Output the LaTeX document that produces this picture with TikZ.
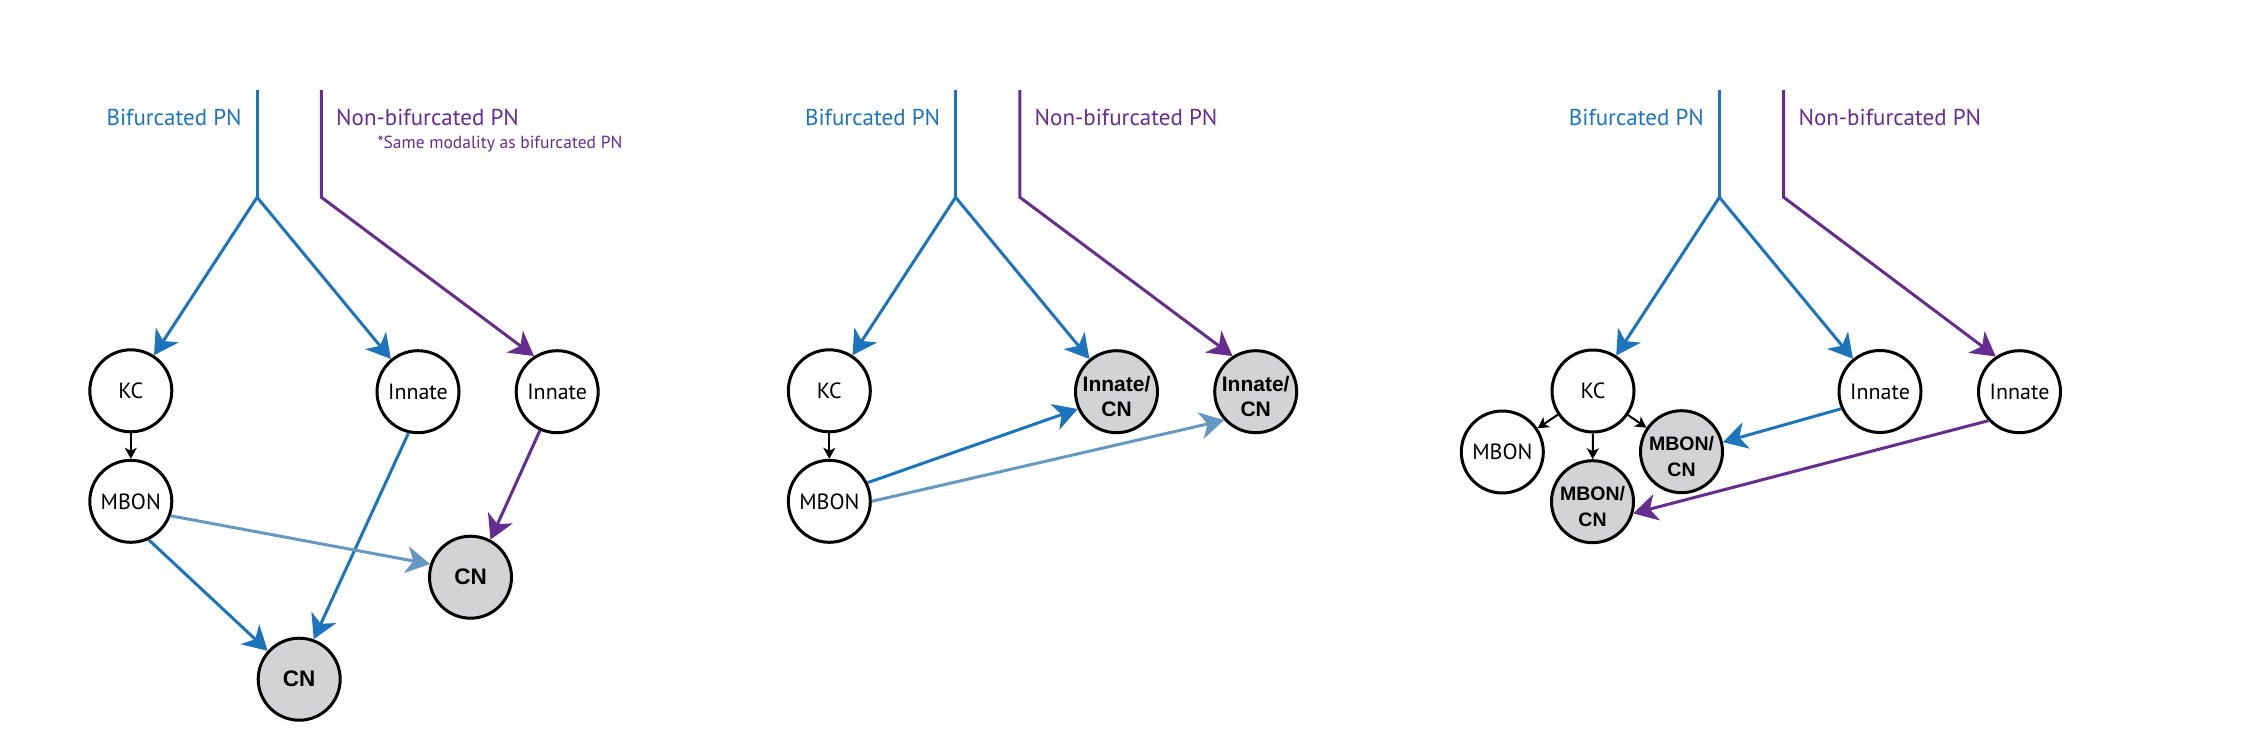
\documentclass[tikz,border=0pt]{standalone}
\usepackage{fontspec}
\setmainfont{PT Sans}
\newfontfamily\arialfont{Liberation Sans}
\usetikzlibrary{arrows.meta}
\definecolor{pnblue}{HTML}{1C75BC}
\definecolor{pnpurple}{HTML}{662D91}
\definecolor{pnlight}{HTML}{6699C2}
\definecolor{cngray}{HTML}{D1D3D4}
\tikzset{
  cell/.style={circle, draw=black, line width=3pt, minimum size=82pt, inner sep=0pt,
    font=\fontsize{22}{24}\selectfont},
  cncell/.style={cell, fill=cngray, font=\arialfont\bfseries\fontsize{22.5}{25}\selectfont},
  twolabel/.style={inner sep=0pt, align=center, yshift=-5pt,
    font=\arialfont\bfseries\fontsize{21}{24.6}\selectfont},
  mcnlabel/.style={inner sep=0pt, align=center, yshift=-5pt,
    font=\arialfont\bfseries\fontsize{19.5}{26}\selectfont},
  headlabel/.style={inner sep=0pt, font=\fontsize{23}{27}\selectfont},
  notelabel/.style={inner sep=0pt, text=pnpurple, font=\fontsize{17.5}{20}\selectfont},
  colhead/.style={-{Stealth[length=24pt,width=27pt,inset=7pt]}},
  blueline/.style={draw=pnblue, line width=3pt},
  purpleline/.style={draw=pnpurple, line width=3pt},
  bluearrow/.style={blueline, colhead},
  purplearrow/.style={purpleline, colhead},
  lightarrow/.style={draw=pnlight, line width=3pt, colhead},
  blackarrow/.style={draw=black, line width=2pt, -{Stealth[length=11pt,width=12pt,inset=3pt]}}
}
\begin{document}
\begin{tikzpicture}[x=1pt,y=-1pt]
\useasboundingbox (0,0) rectangle (2249,750);

% ---------------- Panel 1 ----------------
\coordinate (a-btop) at (257.1,90);
\coordinate (a-j) at (257.1,197.3);
\coordinate (a-ptop) at (321.4,90);
\coordinate (a-pc) at (321.4,197.3);
\node[headlabel, text=pnblue, anchor=base east] (a-lb) at (241.8,125.5) {Bifurcated PN};
\node[headlabel, text=pnpurple, anchor=base west] (a-lp) at (336,125.5) {Non-bifurcated PN};
\node[notelabel, anchor=base west] (a-note) at (377.3,148.3) {*Same modality as bifurcated PN};
\node[cell] (a-kc) at (130.8,390.8) {KC};
\node[cell] (a-mbon) at (130.8,501.3) {MBON};
\node[cell] (a-in1) at (418,391.7) {Innate};
\node[cell] (a-in2) at (557.2,391.7) {Innate};
\node[cncell] (a-cn1) at (299.2,679.2) {CN};
\node[cncell] (a-cn2) at (470.5,577.2) {CN};
\draw[blueline] (a-btop) -- (a-j);
\draw[bluearrow] (a-j) -- (a-kc);
\draw[bluearrow] (a-j) -- (a-in1);
\draw[purplearrow] (a-ptop) -- (a-pc) -- (a-in2.123);
\draw[blackarrow] (a-kc) -- (a-mbon);
\draw[bluearrow] (a-mbon.-65) -- (a-cn1.138.8);
\draw[bluearrow] (a-in1.257) -- (a-cn1.70);
\draw[lightarrow] (a-mbon.-20.6) -- (a-cn2.162.4);
\draw[purplearrow] (a-in2.246.7) -- (a-cn2.62.6);

% ---------------- Panel 2 ----------------
\begin{scope}[xshift=698.5pt]
\coordinate (b-btop) at (257.1,90);
\coordinate (b-j) at (257.1,197.3);
\coordinate (b-ptop) at (321.4,90);
\coordinate (b-pc) at (321.4,197.3);
\node[headlabel, text=pnblue, anchor=base east] (b-lb) at (241.8,125.5) {Bifurcated PN};
\node[headlabel, text=pnpurple, anchor=base west] (b-lp) at (336,125.5) {Non-bifurcated PN};
\node[cell] (b-kc) at (130.8,390.8) {KC};
\node[cell] (b-mbon) at (130.8,501.3) {MBON};
\node[cncell, label={[twolabel]center:{Innate/\\CN}}] (b-ic1) at (418,391.7) {};
\node[cncell, label={[twolabel]center:{Innate/\\CN}}] (b-ic2) at (557.2,391.7) {};
\draw[blueline] (b-btop) -- (b-j);
\draw[bluearrow] (b-j) -- (b-kc);
\draw[bluearrow] (b-j) -- (b-ic1);
\draw[purplearrow] (b-ptop) -- (b-pc) -- (b-ic2.123.5);
\draw[blackarrow] (b-kc) -- (b-mbon);
\draw[bluearrow] (b-mbon.26.5) -- (b-ic1.204.2);
\draw[lightarrow] (b-mbon.0) -- (b-ic2.222.7);
\end{scope}

% ---------------- Panel 3 ----------------
\begin{scope}[xshift=1462.3pt]
\coordinate (c-btop) at (257.1,90);
\coordinate (c-j) at (257.1,197.3);
\coordinate (c-ptop) at (321.4,90);
\coordinate (c-pc) at (321.4,197.3);
\node[headlabel, text=pnblue, anchor=base east] (c-lb) at (241.8,125.5) {Bifurcated PN};
\node[headlabel, text=pnpurple, anchor=base west] (c-lp) at (336,125.5) {Non-bifurcated PN};
\node[cell] (c-kc) at (130.7,391) {KC};
\node[cell] (c-mbon) at (40,452) {MBON};
\node[cncell, label={[mcnlabel]center:{MBON/\\CN}}] (c-mcnr) at (219.2,451.7) {};
\node[cncell, label={[mcnlabel]center:{MBON/\\CN}}] (c-mcnb) at (130.2,501.7) {};
\node[cell] (c-in1) at (417.7,391.5) {Innate};
\node[cell] (c-in2) at (557.2,391.7) {Innate};
\draw[blueline] (c-btop) -- (c-j);
\draw[bluearrow] (c-j) -- (c-kc);
\draw[bluearrow] (c-j) -- (c-in1);
\draw[purplearrow] (c-ptop) -- (c-pc) -- (c-in2.124);
\draw[blackarrow] (c-kc) -- (c-mbon);
\draw[blackarrow] (c-kc) -- (c-mcnr);
\draw[blackarrow] (c-kc) -- (c-mcnb);
\draw[bluearrow] (c-in1.204) -- (c-mcnr.13.5);
\draw[purplearrow] (c-in2.223.9) -- (c-mcnb.-16.7);
\end{scope}
\end{tikzpicture}
\end{document}
